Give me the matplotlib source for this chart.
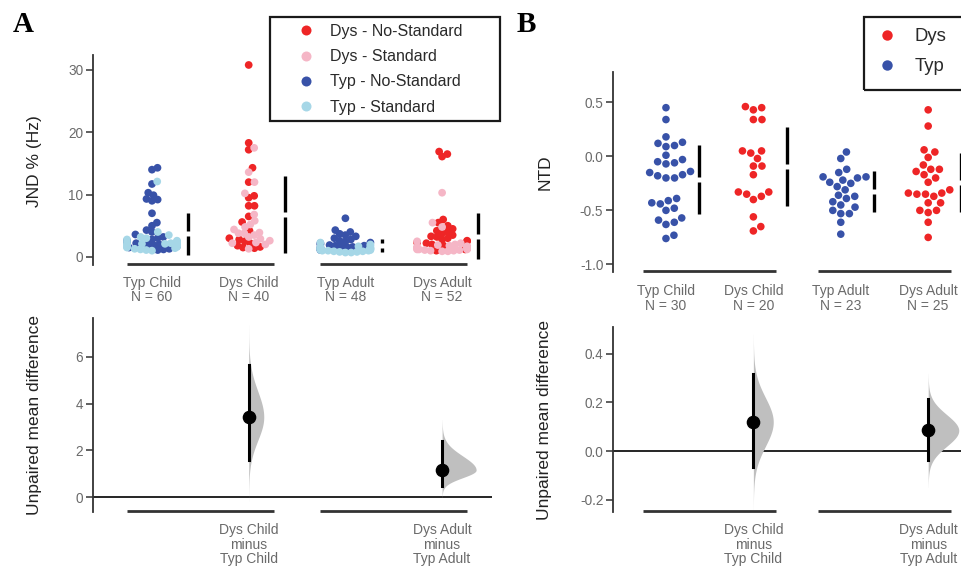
import numpy as np
import matplotlib
matplotlib.use("Agg")
import matplotlib.pyplot as plt
from matplotlib.patches import Rectangle
from matplotlib.lines import Line2D

plt.rcParams['font.family'] = ['Liberation Sans', 'DejaVu Sans']
plt.rcParams['axes.unicode_minus'] = False

# ---------------- DATA ----------------
# Panel A : JND % (Hz)
groups_A = ["Typ Child", "Dys Child", "Typ Adult", "Dys Adult"]
n_A = [60, 40, 48, 52]
typ_child_nostd = [14.3, 14.0, 11.7, 10.3, 9.9, 9.2, 9.0, 9.3, 7.0, 5.5, 5.0, 4.3, 4.0, 3.6, 3.2,
                   3.0, 2.8, 2.5, 2.3, 2.0, 2.0, 1.9, 1.8, 1.5, 1.3, 1.2, 1.1, 2.2, 2.6, 1.7]
typ_child_std = [12.1, 4.0, 3.5, 3.2, 3.0, 2.8, 2.6, 2.5, 2.4, 2.3, 2.2, 2.1, 2.0, 2.0, 1.9,
                 1.8, 1.8, 1.7, 1.6, 1.5, 1.4, 1.3, 1.2, 1.0, 2.1, 2.2, 1.9, 2.4, 1.6, 1.1]
dys_child_nostd = [30.8, 18.3, 17.2, 14.3, 12.0, 9.5, 9.8, 8.2, 8.2, 6.5, 5.6, 4.2, 3.0, 2.8, 2.5,
                   2.2, 1.8, 1.6, 1.5, 1.4]
dys_child_std = [17.5, 13.6, 12.0, 10.2, 6.8, 5.8, 5.2, 4.8, 4.4, 3.9, 3.8, 3.8, 3.5, 2.9, 2.6,
                 2.3, 2.2, 2.0, 1.3, 3.2]
typ_adult_nostd = [6.2, 4.3, 4.0, 3.7, 3.5, 3.3, 3.0, 2.8, 2.6, 2.5, 2.3, 2.2, 2.0, 1.9, 1.8,
                   1.7, 1.6, 1.5, 1.4, 1.3, 1.2, 1.1, 1.6, 1.8]
typ_adult_std = [2.3, 2.0, 1.8, 1.7, 1.6, 1.5, 1.4, 1.3, 1.2, 1.1, 1.0, 0.9, 0.8, 0.7, 1.0,
                 1.2, 0.9, 1.1, 1.3, 0.8, 1.5, 1.4, 1.0, 0.7]
dys_adult_nostd = [16.9, 16.5, 16.1, 6.0, 5.5, 5.0, 4.5, 4.2, 4.0, 3.8, 3.5, 3.2, 3.0, 2.8, 2.5,
                   2.3, 2.0, 1.8, 1.6, 1.4, 1.2, 1.0, 2.2, 2.6, 3.3, 1.5]
dys_adult_std = [10.3, 5.5, 4.8, 2.5, 2.2, 2.0, 1.9, 1.8, 1.7, 1.6, 1.5, 1.4, 1.3, 1.3, 1.2,
                 1.2, 1.1, 1.0, 1.0, 0.9, 1.4, 1.6, 1.1, 0.9, 1.2, 1.5]

# Panel A effect sizes (mean difference, 95% CI, bootstrap spread below/above)
contrasts_A = ["Dys Child\nminus\nTyp Child", "Dys Adult\nminus\nTyp Adult"]
diff_A = [3.43, 1.16]
ci_lo_A = [1.59, 0.48]
ci_hi_A = [5.67, 2.40]
boot_sd_lo_A = [1.00, 0.33]
boot_sd_hi_A = [1.10, 0.60]

# Panel B : NTD
groups_B = ["Typ Child", "Dys Child", "Typ Adult", "Dys Adult"]
n_B = [30, 20, 23, 25]
ntd_typ_child = [0.45, 0.34, 0.18, 0.12, 0.13, 0.09, 0.10, 0.01, -0.03, -0.06, -0.05, -0.07,
                 -0.14, -0.15, -0.17, -0.20, -0.20, -0.18, -0.39, -0.43, -0.44, -0.41, -0.48,
                 -0.50, -0.57, -0.61, -0.59, -0.63, -0.73, -0.76]
ntd_dys_child = [0.46, 0.43, 0.45, 0.34, 0.34, 0.05, 0.03, 0.05, -0.02, -0.09, -0.09, -0.17,
                 -0.33, -0.35, -0.33, -0.40, -0.37, -0.56, -0.65, -0.69]
ntd_typ_adult = [0.04, -0.02, -0.12, -0.15, -0.19, -0.19, -0.20, -0.22, -0.24, -0.25, -0.28,
                 -0.31, -0.39, -0.37, -0.36, -0.42, -0.45, -0.47, -0.50, -0.53, -0.53, -0.61, -0.72]
ntd_dys_adult = [0.43, 0.28, 0.04, 0.06, -0.01, -0.08, -0.12, -0.14, -0.12, -0.17, -0.20, -0.24,
                 -0.31, -0.34, -0.35, -0.37, -0.35, -0.34, -0.43, -0.43, -0.50, -0.50, -0.52,
                 -0.61, -0.75]

contrasts_B = ["Dys Child\nminus\nTyp Child", "Dys Adult\nminus\nTyp Adult"]
diff_B = [0.12, 0.085]
ci_lo_B = [-0.064, -0.035]
ci_hi_B = [0.317, 0.215]
boot_sd_lo_B = [0.10, 0.065]
boot_sd_hi_B = [0.10, 0.065]

# ---------------- STYLE ----------------
RED = '#EE2526'
PINK = '#F5B6C6'
BLUE = '#3852A8'
LBLUE = '#A6D7E7'
SPINE = '#333333'
TICKLAB = '#6A6A6A'
LABEL = '#222222'
VIOLIN = '#BFBFBF'

W, H = 962, 567
fig = plt.figure(figsize=(W / 100, H / 100), dpi=100)


def fbox(l, t, r, b):
    return [l / W, 1 - b / H, (r - l) / W, (b - t) / H]


def swarm_offsets(ypix, d, gutter):
    ypix = np.asarray(ypix, float)
    order = np.argsort(ypix, kind='stable')
    px_list, py_list = [], []
    xs = np.zeros(len(ypix))
    for i in order:
        y = ypix[i]
        cands = [0.0]
        for px, py in zip(px_list, py_list):
            dy = y - py
            if abs(dy) < d:
                dx = np.sqrt(d * d - dy * dy)
                cands += [px + dx, px - dx]
        cands = sorted(cands, key=abs)
        chosen = cands[-1]
        for c in cands:
            ok = True
            for px, py in zip(px_list, py_list):
                if (c - px) ** 2 + (y - py) ** 2 < d * d - 1e-6:
                    ok = False
                    break
            if ok:
                chosen = c
                break
        chosen = float(np.clip(chosen, -gutter, gutter))
        xs[i] = chosen
        px_list.append(chosen)
        py_list.append(y)
    return xs


def style_axis(ax, yticks, yticklabels=None):
    for s in ['top', 'right', 'bottom']:
        ax.spines[s].set_visible(False)
    ax.spines['left'].set_color(SPINE)
    ax.spines['left'].set_linewidth(1.3)
    ax.set_yticks(yticks)
    if yticklabels is not None:
        ax.set_yticklabels(yticklabels)
    ax.tick_params(axis='y', color=SPINE, labelcolor=TICKLAB, length=5, width=1.1,
                   labelsize=9.8, pad=2)
    ax.tick_params(axis='x', length=0, labelcolor=TICKLAB, labelsize=10, pad=8)
    ax.set_facecolor('none')


def group_lines(ax, xpairs):
    tr = ax.get_xaxis_transform()
    for a, b in xpairs:
        ax.plot([a - 0.26, b + 0.26], [0.004, 0.004], color=SPINE, lw=2,
                transform=tr, clip_on=False, solid_capstyle='butt')


def gapped_line(ax, x, vals, gap):
    m = np.mean(vals)
    s = np.std(vals, ddof=1)
    ax.plot([x, x], [m + gap, m + s], color='black', lw=2.4, solid_capstyle='butt', clip_on=False)
    ax.plot([x, x], [m - s, m - gap], color='black', lw=2.4, solid_capstyle='butt', clip_on=False)


def half_violin(ax, x, center, sd_lo, sd_hi, scale):
    yy = np.linspace(center - 3.6 * sd_lo, center + 3.6 * sd_hi, 300)
    s = np.where(yy < center, sd_lo, sd_hi)
    dens = (2 / (np.sqrt(2 * np.pi) * (sd_lo + sd_hi))) * np.exp(-0.5 * ((yy - center) / s) ** 2)
    ax.fill_betweenx(yy, x, x + scale * dens, color=VIOLIN, lw=0, zorder=1)


def swarm_panel(ax, series_list, px_x, px_y, ms, dcoll, gutter, gap_px, offset):
    for gi, series in enumerate(series_list):
        vals = np.concatenate([np.asarray(v, float) for v, c in series])
        cols = sum([[c] * len(v) for v, c in series], [])
        xo = swarm_offsets(vals * px_y, dcoll, gutter) / px_x
        ax.scatter(gi + xo, vals, s=ms, c=cols, linewidths=0, zorder=3, clip_on=False)
        gapped_line(ax, gi + offset, vals, gap_px / px_y)


# ================= PANEL A =================
# top
A_l, A_r = 93, 492
axA = fig.add_axes(fbox(A_l, 55, A_r, 265))
xlimA = (-0.61, 3.516)
axA.set_xlim(*xlimA)
axA.set_ylim(-1.3, 32.4)
style_axis(axA, [0, 10, 20, 30])
pxA_x = (A_r - A_l) / (xlimA[1] - xlimA[0])
pxA_y = 210 / (32.4 + 1.3)
seriesA = [
    [(typ_child_nostd, BLUE), (typ_child_std, LBLUE)],
    [(dys_child_nostd, RED), (dys_child_std, PINK)],
    [(typ_adult_nostd, BLUE), (typ_adult_std, LBLUE)],
    [(dys_adult_nostd, RED), (dys_adult_std, PINK)],
]
swarm_panel(axA, seriesA, pxA_x, pxA_y, ms=31, dcoll=5.8, gutter=25, gap_px=2.5, offset=0.375)
axA.set_xticks(range(4))
axA.set_xticklabels([f"{g}\nN = {n}" for g, n in zip(groups_A, n_A)], linespacing=1.0)
group_lines(axA, [(0, 1), (2, 3)])

# bottom
axA2 = fig.add_axes(fbox(A_l, 318, A_r, 512))
axA2.set_xlim(*xlimA)
axA2.set_ylim(-0.64, 7.67)
style_axis(axA2, [0, 2, 4, 6])
axA2.axhline(0, color='black', lw=1.2, zorder=0)
for i, xpos in enumerate([1, 3]):
    half_violin(axA2, xpos, diff_A[i], boot_sd_lo_A[i], boot_sd_hi_A[i], scale=0.41)
    axA2.plot([xpos, xpos], [ci_lo_A[i], ci_hi_A[i]], color='black', lw=2.2, zorder=4)
    axA2.plot([xpos], [diff_A[i]], 'o', color='black', ms=8.8, zorder=5)
axA2.set_xticks([1, 3])
axA2.set_xticklabels(contrasts_A, linespacing=1.05)
group_lines(axA2, [(0, 1), (2, 3)])

fig.text(35 / W, 1 - 161 / H, "JND % (Hz)", rotation=90, ha='center', va='center',
         fontsize=12.5, color=LABEL)
fig.text(35 / W, 1 - 415 / H, "Unpaired mean difference", rotation=90, ha='center',
         va='center', fontsize=12.5, color=LABEL)

# legend A
handlesA = [Line2D([], [], marker='o', ls='none', color=c, markersize=7.2, markeredgewidth=0)
            for c in [RED, PINK, BLUE, LBLUE]]
labelsA = ["Dys - No-Standard", "Dys - Standard", "Typ - No-Standard", "Typ - Standard"]
fig.legend(handlesA, labelsA, loc='upper left', bbox_to_anchor=(298 / W, 1 - 24 / H),
           bbox_transform=fig.transFigure, frameon=False, borderpad=0, borderaxespad=0,
           handlelength=1.0, handletextpad=1.0, labelspacing=0.64, fontsize=11.5,
           labelcolor='#2a2a2a')
fig.add_artist(Rectangle((270 / W, 1 - 121 / H), 230 / W, 104 / H, transform=fig.transFigure,
                         fill=False, lw=1.6, ec='#1a1a1a'))

# ================= PANEL B =================
B_l, B_r = 613, 962
axB = fig.add_axes(fbox(B_l, 72, B_r, 272))
xlimB = (-0.606, 3.387)
axB.set_xlim(*xlimB)
axB.set_ylim(-1.07, 0.78)
style_axis(axB, [-1.0, -0.5, 0.0, 0.5], ["-1.0", "-0.5", "0.0", "0.5"])
pxB_x = (B_r - B_l) / (xlimB[1] - xlimB[0])
pxB_y = 200 / (0.78 + 1.07)
seriesB = [
    [(ntd_typ_child, BLUE)],
    [(ntd_dys_child, RED)],
    [(ntd_typ_adult, BLUE)],
    [(ntd_dys_adult, RED)],
]
swarm_panel(axB, seriesB, pxB_x, pxB_y, ms=30, dcoll=8.6, gutter=40, gap_px=2.5, offset=0.38)
axB.set_xticks(range(4))
axB.set_xticklabels([f"{g}\nN = {n}" for g, n in zip(groups_B, n_B)], linespacing=1.0)
axB.tick_params(axis='x', pad=9)
group_lines(axB, [(0, 1), (2, 3)])

axB2 = fig.add_axes(fbox(B_l, 327, B_r, 512))
axB2.set_xlim(*xlimB)
axB2.set_ylim(-0.25, 0.51)
style_axis(axB2, [-0.2, 0.0, 0.2, 0.4], ["-0.2", "0.0", "0.2", "0.4"])
axB2.axhline(0, color='black', lw=1.2, zorder=0)
for i, xpos in enumerate([1, 3]):
    half_violin(axB2, xpos, diff_B[i], boot_sd_lo_B[i], boot_sd_hi_B[i], scale=0.057)
    axB2.plot([xpos, xpos], [ci_lo_B[i], ci_hi_B[i]], color='black', lw=2.2, zorder=4)
    axB2.plot([xpos], [diff_B[i]], 'o', color='black', ms=8.8, zorder=5)
axB2.set_xticks([1, 3])
axB2.set_xticklabels(contrasts_B, linespacing=1.05)
group_lines(axB2, [(0, 1), (2, 3)])

fig.text(545 / W, 1 - 172 / H, "NTD", rotation=90, ha='center', va='center',
         fontsize=12.5, color=LABEL)
fig.text(545 / W, 1 - 420 / H, "Unpaired mean difference", rotation=90, ha='center',
         va='center', fontsize=12.5, color=LABEL)

handlesB = [Line2D([], [], marker='o', ls='none', color=c, markersize=7.5, markeredgewidth=0)
            for c in [RED, BLUE]]
fig.legend(handlesB, ["Dys", "Typ"], loc='upper left', bbox_to_anchor=(878 / W, 1 - 28 / H),
           bbox_transform=fig.transFigure, frameon=False, borderpad=0, borderaxespad=0,
           handlelength=1.0, handletextpad=1.0, labelspacing=0.72, fontsize=13.3,
           labelcolor='#2a2a2a')
fig.add_artist(Rectangle((864 / W, 1 - 90 / H), 120 / W, 73 / H, transform=fig.transFigure,
                         fill=False, lw=1.6, ec='#1a1a1a', clip_on=False))

# panel letters
fig.text(13 / W, 1 - 32 / H, "A", fontfamily=['Liberation Serif', 'DejaVu Serif'],
         fontweight='bold', fontsize=21, color='black', va='baseline')
fig.text(517 / W, 1 - 32 / H, "B", fontfamily=['Liberation Serif', 'DejaVu Serif'],
         fontweight='bold', fontsize=21, color='black', va='baseline')

fig.savefig("out.png", dpi=100)
